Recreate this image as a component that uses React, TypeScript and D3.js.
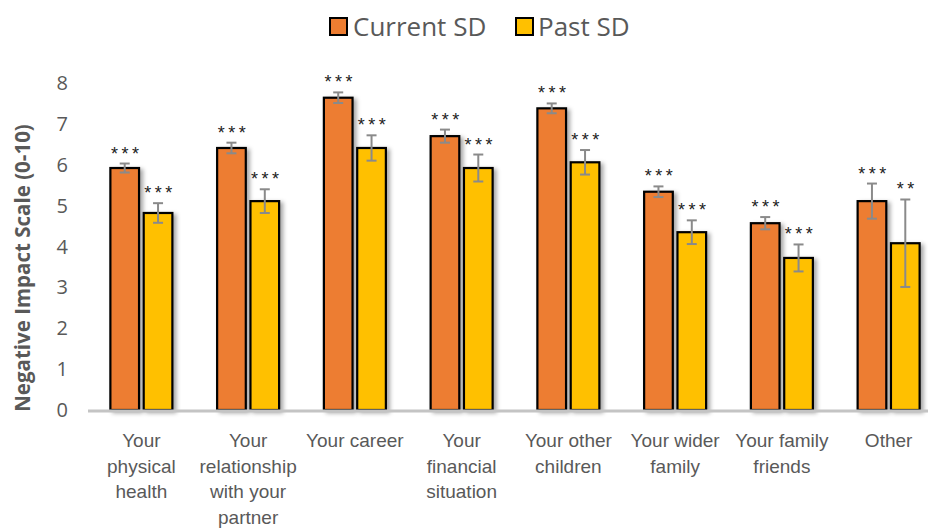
import React, { useEffect } from "react";
import * as d3 from "d3";

const categories: string[][] = [
  ["Your", "physical", "health"],
  ["Your", "relationship", "with your", "partner"],
  ["Your career"],
  ["Your", "financial", "situation"],
  ["Your other", "children"],
  ["Your wider", "family"],
  ["Your family", "friends"],
  ["Other"],
];
const seriesNames = ["Current SD", "Past SD"];
const currentValues = [5.92, 6.41, 7.64, 6.7, 7.38, 5.34, 4.57, 5.11];
const currentErrors = [0.11, 0.13, 0.13, 0.16, 0.12, 0.13, 0.15, 0.43];
const currentSig = ["***", "***", "***", "***", "***", "***", "***", "***"];
const pastValues = [4.82, 5.11, 6.41, 5.92, 6.06, 4.35, 3.72, 4.08];
const pastErrors = [0.24, 0.29, 0.31, 0.33, 0.3, 0.29, 0.33, 1.07];
const pastSig = ["***", "***", "***", "***", "***", "***", "***", "**"];
const yTicks = [0, 1, 2, 3, 4, 5, 6, 7, 8];
const colors = ["#ED7D31", "#FFC000"];

export default function App() {
  useEffect(() => {
    document.body.style.margin = "0";
  }, []);
  const W = 928;
  const H = 529;
  const x0 = d3
    .scaleBand<number>()
    .domain(d3.range(categories.length))
    .range([88, 942])
    .padding(0);
  const groupW = 62;
  const x1 = d3.scaleBand<string>().domain(seriesNames).range([0, groupW]).paddingInner(0.14);
  const y = d3.scaleLinear().domain([0, 8]).range([410, 83]);
  const series = [
    { name: seriesNames[0], values: currentValues, errors: currentErrors, sig: currentSig, color: colors[0] },
    { name: seriesNames[1], values: pastValues, errors: pastErrors, sig: pastSig, color: colors[1] },
  ];
  const textGray = "#595959";
  return (
    <svg width={W} height={H} style={{ display: "block", background: "#fff" }}>
      <defs>
        <filter id="sh" x="-30%" y="-10%" width="160%" height="130%">
          <feDropShadow dx="3" dy="2" stdDeviation="2" floodColor="#000" floodOpacity="0.35" />
        </filter>
      </defs>
      {/* legend */}
      <g>
        <rect x={330} y={18} width={17} height={17} fill={colors[0]} stroke="#000" strokeWidth={2} />
        <text x={353} y={36} fontFamily="Open Sans" fontSize={26} fill={textGray}>
          {seriesNames[0]}
        </text>
        <rect x={516} y={18} width={17} height={17} fill={colors[1]} stroke="#000" strokeWidth={2} />
        <text x={538} y={36} fontFamily="Open Sans" fontSize={26} fill={textGray}>
          {seriesNames[1]}
        </text>
      </g>
      {/* y ticks */}
      {yTicks.map((t) => (
        <text
          key={t}
          x={68}
          y={y(t)}
          dy="0.35em"
          textAnchor="end"
          fontFamily="Open Sans"
          fontSize={20}
          fill={textGray}
        >
          {t}
        </text>
      ))}
      <text
        transform={`translate(23,268) rotate(-90)`}
        textAnchor="middle"
        dy="0.35em"
        fontFamily="Open Sans"
        fontWeight="bold"
        fontSize={20.5}
        fill={textGray}
      >
        Negative Impact Scale (0-10)
      </text>
      {/* bars */}
      {categories.map((_, i) => {
        const gx = (x0(i) as number) + (x0.bandwidth() - groupW) / 2;
        return (
          <g key={i}>
            {series.map((s) => {
              const bx = gx + (x1(s.name) as number);
              const bw = x1.bandwidth();
              const v = s.values[i];
              const e = s.errors[i];
              const cx = bx + bw / 2;
              return (
                <g key={s.name}>
                  <rect
                    x={bx}
                    y={y(v)}
                    width={bw}
                    height={y(0) - y(v)}
                    fill={s.color}
                    stroke="#000"
                    strokeWidth={2.2}
                    filter="url(#sh)"
                  />
                  <g stroke="#8a8a8a" strokeWidth={2}>
                    <line x1={cx} x2={cx} y1={y(v + e)} y2={y(v - e)} />
                    <line x1={cx - 5} x2={cx + 5} y1={y(v + e)} y2={y(v + e)} />
                    <line x1={cx - 5} x2={cx + 5} y1={y(v - e)} y2={y(v - e)} />
                  </g>
                  <text
                    x={cx + 2}
                    y={y(v + e) - 4}
                    textAnchor="middle"
                    fontFamily="Liberation Sans"
                    fontSize={18}
                    letterSpacing={3.5}
                    fill="#222"
                  >
                    {s.sig[i]}
                  </text>
                </g>
              );
            })}
          </g>
        );
      })}
      {/* axis line */}
      <line x1={88} x2={942} y1={y(0) + 1} y2={y(0) + 1} stroke="#c4c4c4" strokeWidth={3} />
      {/* x labels */}
      {categories.map((lines, i) => {
        const cx = (x0(i) as number) + x0.bandwidth() / 2;
        return (
          <text
            key={i}
            x={cx}
            y={447}
            textAnchor="middle"
            fontFamily="Liberation Sans"
            fontSize={19}
            fill={textGray}
          >
            {lines.map((l, j) => (
              <tspan key={j} x={cx} dy={j === 0 ? 0 : 25.5}>
                {l}
              </tspan>
            ))}
          </text>
        );
      })}
    </svg>
  );
}
